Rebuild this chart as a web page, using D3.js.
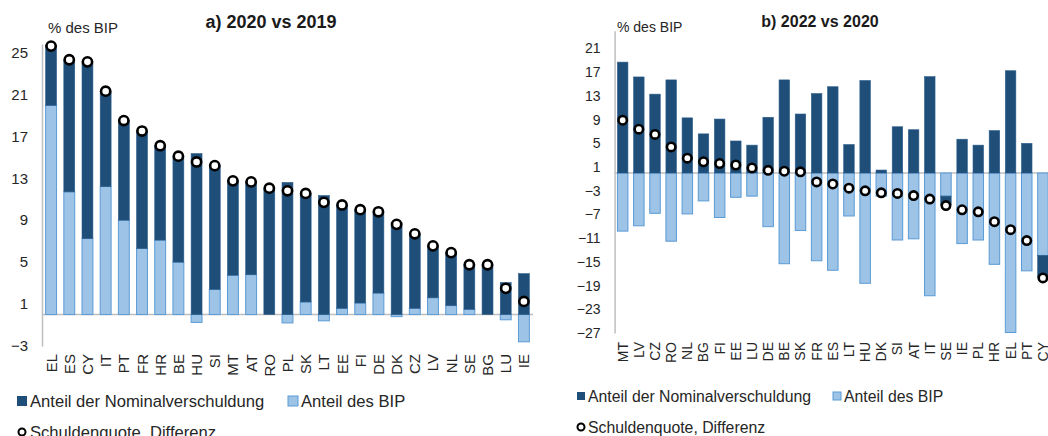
<!DOCTYPE html>
<html><head><meta charset="utf-8">
<script src="https://cdn.jsdelivr.net/npm/d3@7"></script>
<style>
html,body{margin:0;padding:0;background:#fff;}
svg{display:block;font-family:"Liberation Sans",Arial,sans-serif;}
</style></head>
<body>
<svg id="c" width="1048" height="436"></svg>
<script>
// ---- Panel a) 2020 vs 2019 ----
const countriesA = ["EL","ES","CY","IT","PT","FR","HR","BE","HU","SI","MT","AT","RO","PL","SK","LT","EE","FI","DE","DK","CZ","LV","NL","SE","BG","LU","IE"];
const nominalA = [5.7,12.6,16.85,9.1,9.5,11.2,9.0,10.1,15.35,11.8,9.0,8.85,12.05,12.6,10.35,11.35,9.85,8.9,7.75,8.8,7.1,4.95,5.05,4.25,4.75,3.05,3.9];
const gdpA     = [19.95,11.7,7.25,12.2,9.0,6.3,7.1,5.0,-0.75,2.4,3.75,3.8,0,-0.8,1.2,-0.6,0.6,1.1,2.05,-0.2,0.6,1.6,0.85,0.5,0,-0.5,-2.6];
const diffA    = [25.6,24.3,24.1,21.3,18.5,17.5,16.1,15.1,14.55,14.2,12.75,12.65,12.05,11.8,11.55,10.7,10.45,10.0,9.8,8.6,7.7,6.55,5.9,4.75,4.75,2.5,1.25];
const ticksA   = [-3,1,5,9,13,17,21,25];

// ---- Panel b) 2022 vs 2020 ----
const countriesB = ["MT","LV","CZ","RO","NL","BG","FI","EE","LU","DE","BE","SK","FR","ES","LT","HU","DK","SI","AT","IT","SE","IE","PL","HR","EL","PT","CY"];
const nominalB = [18.7,16.2,13.3,15.7,9.3,6.6,9.1,5.4,4.7,9.4,15.7,9.95,13.4,14.55,4.8,15.6,0.5,7.8,7.3,16.25,-1.5,5.7,4.7,7.15,17.25,5.0,-3.7];
const gdpB     = [-9.8,-8.9,-6.8,-11.5,-6.9,-4.7,-7.5,-4.1,-3.9,-9.05,-15.3,-9.7,-14.8,-16.4,-7.25,-18.6,-3.9,-11.3,-11.1,-20.7,-3.9,-11.9,-11.3,-15.4,-26.9,-16.5,-13.9];
const diffB    = [8.9,7.4,6.5,4.4,2.5,1.9,1.6,1.35,0.85,0.45,0.3,0.2,-1.5,-1.85,-2.55,-3.0,-3.35,-3.45,-3.8,-4.4,-5.5,-6.2,-6.55,-8.2,-9.55,-11.4,-17.7];
const ticksB   = [-27,-23,-19,-15,-11,-7,-3,1,5,9,13,17,21];

const legendLabels = ["Anteil der Nominalverschuldung","Anteil des BIP","Schuldenquote, Differenz"];

const DARK = "#1f4e79", LIGHT = "#9dc3e6", LIGHT_STROKE = "#5b9bd5", AXIS = "#bfbfbf";
const svg = d3.select("#c");

function panel(cfg){
  const g = svg.append("g");
  const x = d3.scaleBand().domain(cfg.countries).range(cfg.xr).paddingInner(cfg.pi).paddingOuter(cfg.pi/2);
  const y = d3.scaleLinear().domain(cfg.yd).range(cfg.yr);
  const rows = cfg.countries.map((c,i)=>({c, gdp:cfg.gdp[i], nominal:cfg.nominal[i], diff:cfg.diff[i]}));
  const stack = d3.stack().keys(["gdp","nominal"]).offset(d3.stackOffsetDiverging)(rows);

  // y axis
  const ya = d3.axisLeft(y).tickValues(cfg.ticks).tickSize(0).tickPadding(cfg.tickPad);
  const ag = g.append("g").attr("transform",`translate(${cfg.xr[0]},0)`).call(ya);
  ag.select(".domain").attr("stroke",AXIS).attr("stroke-width",1.5);
  ag.selectAll("text").attr("font-size",cfg.fs).attr("fill","#262626").attr("font-family","Liberation Sans, Arial, sans-serif");

  // zero line
  g.append("line").attr("x1",cfg.xr[0]).attr("x2",cfg.zeroEnd).attr("y1",y(0)).attr("y2",y(0))
    .attr("stroke",AXIS).attr("stroke-width",1.5);

  // bars
  const colors = {gdp:LIGHT, nominal:DARK};
  stack.forEach(s=>{
    g.append("g").selectAll("rect").data(s).join("rect")
      .attr("x",d=>x(d.data.c)).attr("width",x.bandwidth())
      .attr("y",d=>y(Math.max(d[0],d[1]))).attr("height",d=>Math.abs(y(d[0])-y(d[1])))
      .attr("fill",colors[s.key])
      .attr("stroke",s.key==="gdp"?LIGHT_STROKE:"#2b5d8c").attr("stroke-width",s.key==="gdp"?1:0.6);
  });

  // dots
  g.append("g").selectAll("circle").data(rows).join("circle")
    .attr("cx",d=>x(d.c)+x.bandwidth()/2).attr("cy",d=>y(d.diff)).attr("r",cfg.r)
    .attr("fill","#fff").attr("stroke","#000").attr("stroke-width",2.6);

  // x labels
  g.append("g").selectAll("text").data(cfg.countries).join("text")
    .attr("transform",d=>`translate(${x(d)+x.bandwidth()/2},${cfg.labelY}) rotate(-90)`)
    .attr("text-anchor","end").attr("dominant-baseline","central")
    .attr("font-size",cfg.fs).attr("fill","#262626").text(d=>d);

  // unit + title
  g.append("text").attr("x",cfg.unitX).attr("y",cfg.unitY).attr("font-size",cfg.fs).attr("fill","#262626").text("% des BIP");
  g.append("text").attr("x",cfg.titleX).attr("y",cfg.titleY).attr("text-anchor","middle")
    .attr("font-size",cfg.titleFs).attr("font-weight","bold").attr("fill","#1a1a1a").text(cfg.title);

  // legend
  const L = cfg.leg;
  g.append("rect").attr("x",L.x1).attr("y",L.y1-L.sq/2).attr("width",L.sq).attr("height",L.sq).attr("fill",DARK);
  g.append("text").attr("x",L.x1+L.sq+3).attr("y",L.y1).attr("dominant-baseline","central").attr("font-size",L.fs).attr("fill","#262626").text(legendLabels[0]);
  g.append("rect").attr("x",L.x2).attr("y",L.y1-L.sq/2).attr("width",L.sq).attr("height",L.sq).attr("fill",LIGHT).attr("stroke",LIGHT_STROKE).attr("stroke-width",1);
  g.append("text").attr("x",L.x2+L.sq+3).attr("y",L.y1).attr("dominant-baseline","central").attr("font-size",L.fs).attr("fill","#262626").text(legendLabels[1]);
  g.append("circle").attr("cx",L.x1+L.sq/2).attr("cy",L.y2).attr("r",3.5).attr("fill","#fff").attr("stroke","#000").attr("stroke-width",2);
  g.append("text").attr("x",L.x1+L.sq+3).attr("y",L.y2).attr("dominant-baseline","central").attr("font-size",L.fs).attr("fill","#262626").text(legendLabels[2]);
}

panel({countries:countriesA, nominal:nominalA, gdp:gdpA, diff:diffA, ticks:ticksA,
  xr:[42,533], pi:0.4, yd:[-3,25.8], yr:[346,44], zeroEnd:533, fs:15, tickPad:14, r:4.6,
  labelY:354, unitX:48, unitY:33, title:"a) 2020 vs 2019", titleX:271, titleY:28, titleFs:18,
  leg:{x1:17, x2:288, y1:401, y2:432, sq:10, fs:16.6}});

panel({countries:countriesB, nominal:nominalB, gdp:gdpB, diff:diffB, ticks:ticksB,
  xr:[614.6,1051], pi:0.35, yd:[-27,24], yr:[333.1,30.7], zeroEnd:1048, fs:14, tickPad:14, r:4.2,
  labelY:342, unitX:617, unitY:32, title:"b) 2022 vs 2020", titleX:820, titleY:27, titleFs:16,
  leg:{x1:577, x2:833, y1:396, y2:427, sq:8, fs:15.8}});
</script>
</body></html>
